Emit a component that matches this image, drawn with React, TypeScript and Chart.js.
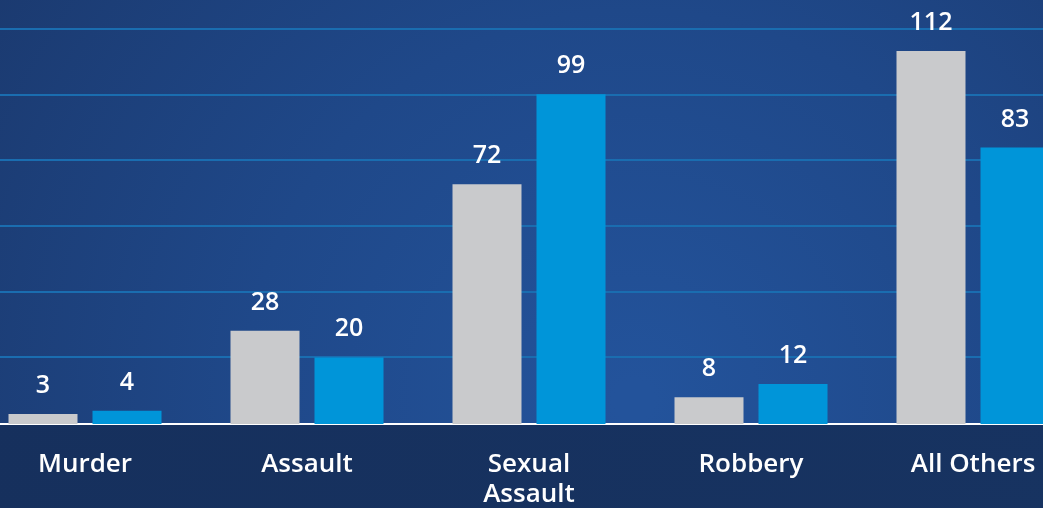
import React, { useEffect, useRef } from "react";
import { Chart, registerables } from "chart.js";

Chart.register(...registerables);

const categories: (string | string[])[] = ["Murder", "Assault", ["Sexual", "Assault"], "Robbery", "All Others"];
const seriesA: number[] = [3, 28, 72, 8, 112];
const seriesB: number[] = [4, 20, 99, 12, 83];
const gridTicks: number[] = [20, 40, 60, 80, 100, 120];

const FONT = "'Open Sans', 'Noto Sans', sans-serif";

const bgPlugin = {
  id: "bgPlugin",
  beforeDraw(chart: any) {
    const { ctx, width, height, chartArea } = chart;
    ctx.save();
    const g = ctx.createRadialGradient(660, 400, 20, 660, 400, 760);
    g.addColorStop(0, "#23539b");
    g.addColorStop(0.5, "#1f4889");
    g.addColorStop(1, "#1b3a70");
    ctx.fillStyle = g;
    ctx.fillRect(0, 0, width, height);
    const g2 = ctx.createLinearGradient(0, chartArea.bottom, width, height);
    g2.addColorStop(0, "#16305d");
    g2.addColorStop(1, "#173361");
    ctx.fillStyle = g2;
    ctx.fillRect(0, chartArea.bottom, width, height - chartArea.bottom);
    ctx.restore();
  },
};

const valueLabels = {
  id: "valueLabels",
  afterDatasetsDraw(chart: any) {
    const { ctx } = chart;
    ctx.save();
    ctx.fillStyle = "#ffffff";
    ctx.font = `600 25px ${FONT}`;
    ctx.textAlign = "center";
    ctx.textBaseline = "alphabetic";
    chart.data.datasets.forEach((ds: any, i: number) => {
      const meta = chart.getDatasetMeta(i);
      meta.data.forEach((el: any, j: number) => {
        ctx.fillText(String(ds.data[j]), el.x, el.y - 21);
      });
    });
    ctx.restore();
  },
};

export default function App() {
  const ref = useRef<HTMLCanvasElement | null>(null);

  useEffect(() => {
    document.body.style.margin = "0";
    const canvas = ref.current!;
    const chart = new Chart(canvas, {
      type: "bar",
      data: {
        labels: categories,
        datasets: [
          {
            label: "Year 1",
            data: seriesA,
            backgroundColor: "#c9cacc",
            categoryPercentage: 0.7568,
            barPercentage: 0.8214,
            yAxisID: "y",
          },
          {
            label: "Year 2",
            data: seriesB,
            backgroundColor: "#0095d9",
            categoryPercentage: 0.7568,
            barPercentage: 0.8214,
            yAxisID: "y",
          },
        ],
      },
      options: {
        responsive: false,
        animation: false,
        devicePixelRatio: 1,
        layout: { padding: 0 },
        plugins: {
          legend: { display: false },
          tooltip: { enabled: false },
          title: { display: false },
        },
        scales: {
          x: {
            type: "category",
            position: "bottom",
            offset: true,
            z: 1,
            grid: { display: true, color: "rgba(0,0,0,0)", drawTicks: false, drawOnChartArea: false },
            border: { display: true, color: "#ffffff", width: 2 },
            ticks: {
              color: "#ffffff",
              font: { family: FONT, size: 26, weight: 600, lineHeight: 1.154 },
              padding: 26,
              maxRotation: 0,
              minRotation: 0,
              autoSkip: false,
            },
            afterFit(scale: any) {
              scale.height = 84;
            },
          },
          y: {
            type: "linear",
            display: false,
            min: 0,
            max: 127.3,
          },
          y2: {
            type: "linear",
            position: "left",
            display: true,
            min: -0.3,
            max: 128.8,
            afterBuildTicks(scale: any) {
              scale.ticks = gridTicks.map((v) => ({ value: v }));
            },
            grid: { color: "#1a6db0", lineWidth: 2, drawTicks: false },
            border: { display: false },
            ticks: { display: false },
            afterFit(scale: any) {
              scale.width = 0;
            },
          },
        },
      },
      plugins: [bgPlugin, valueLabels],
    });
    return () => chart.destroy();
  }, []);

  return (
    <div style={{ position: "relative", width: 1043, height: 508, overflow: "hidden" }}>
      <canvas
        ref={ref}
        width={1110}
        height={508}
        style={{ position: "absolute", left: -26, top: 0, width: 1110, height: 508 }}
      />
    </div>
  );
}
